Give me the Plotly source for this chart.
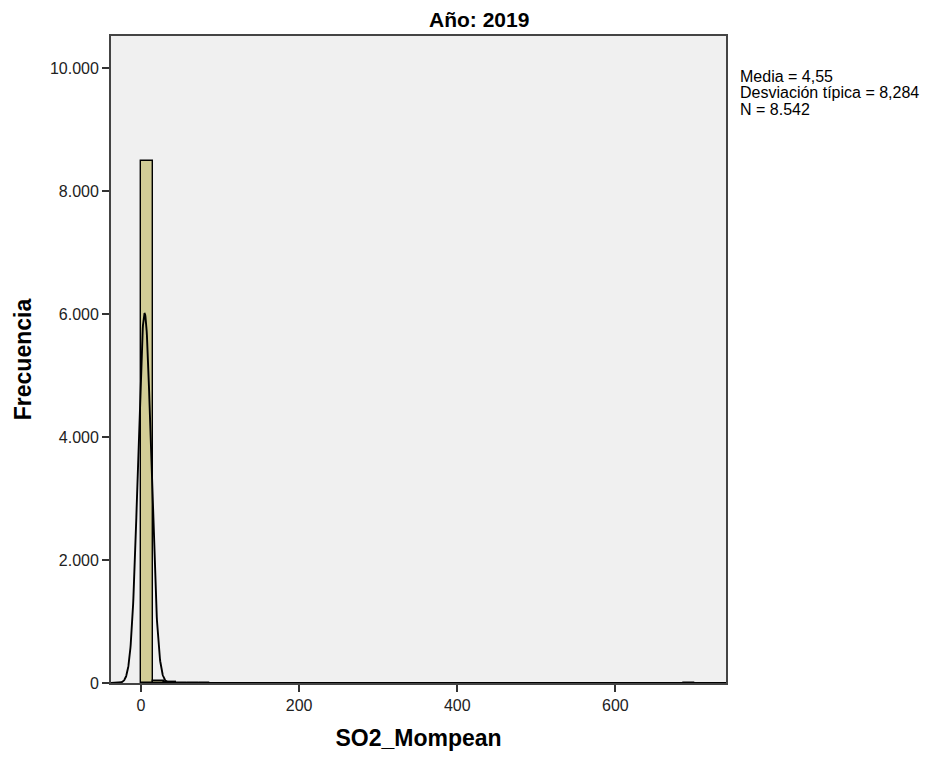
import numpy as np
import plotly.graph_objects as go

# Histogram data
bin_width = 14.6
bin_starts = [0, 14.6, 29.2, 43.8, 58.4, 73.0, 686.2]
counts = [8480, 40, 10, 5, 3, 3, 1]

mean_val = 4.55
sd_val = 8.284
n_val = 8542

y_ticks = [0, 2000, 4000, 6000, 8000, 10000]
y_tick_labels = ["0", "2.000", "4.000", "6.000", "8.000", "10.000"]
x_ticks = [0, 200, 400, 600]
x_tick_labels = ["0", "200", "400", "600"]

stats_lines = ["Media = 4,55", "Desviación típica = 8,284", "N = 8.542"]

centers = [s + bin_width / 2 for s in bin_starts]

xs = np.linspace(-38, 740, 2500)
ys = n_val * bin_width / (sd_val * np.sqrt(2 * np.pi)) * np.exp(-0.5 * ((xs - mean_val) / sd_val) ** 2)

fig = go.Figure()
fig.add_trace(go.Bar(
    x=centers, y=counts, width=[bin_width] * len(counts),
    marker=dict(color="#d2cd96", line=dict(color="#000000", width=1.4)),
    hoverinfo="skip", showlegend=False,
))
fig.add_trace(go.Scatter(
    x=xs, y=ys, mode="lines", line=dict(color="#000000", width=1.9),
    hoverinfo="skip", showlegend=False,
))

fig.update_layout(
    width=931, height=757,
    margin=dict(l=103, r=213, t=28, b=82),
    paper_bgcolor="white", plot_bgcolor="#f0f0f0",
    font=dict(family="Liberation Sans, Arial, sans-serif", color="#000000", size=16),
    bargap=0,
)
fig.update_xaxes(
    range=[-38, 740], tickvals=x_ticks, ticktext=x_tick_labels,
    ticks="outside", ticklen=7, tickcolor="#333", tickwidth=1.5, showgrid=False, zeroline=False,
    showline=True, linecolor="#444", linewidth=1.8, mirror=True,
    title=dict(text="<b>SO2_Mompean</b>", font=dict(size=23), standoff=17),
    tickfont=dict(size=16, color="#222"),
)
fig.update_yaxes(
    range=[0, 10520], tickvals=y_ticks, ticktext=y_tick_labels,
    ticks="outside", ticklen=7, tickcolor="#333", tickwidth=1.5, showgrid=False, zeroline=False,
    showline=True, linecolor="#444", linewidth=1.8, mirror=True,
    title=dict(text="<b>Frecuencia</b>", font=dict(size=23), standoff=12),
    tickfont=dict(size=16, color="#222"),
)
# Title
fig.add_annotation(
    xref="paper", yref="paper", x=0.598, y=1.026, xanchor="center", yanchor="middle",
    text="<b>Año: 2019</b>", showarrow=False, font=dict(size=21),
)
# Stats box text
for line, yp in zip(stats_lines, [0.938, 0.913, 0.887]):
    fig.add_annotation(
        xref="paper", yref="paper", x=1.0195, y=yp, xanchor="left", yanchor="middle",
        text=line, showarrow=False, align="left", font=dict(size=16),
    )

fig.write_html("out.html")
